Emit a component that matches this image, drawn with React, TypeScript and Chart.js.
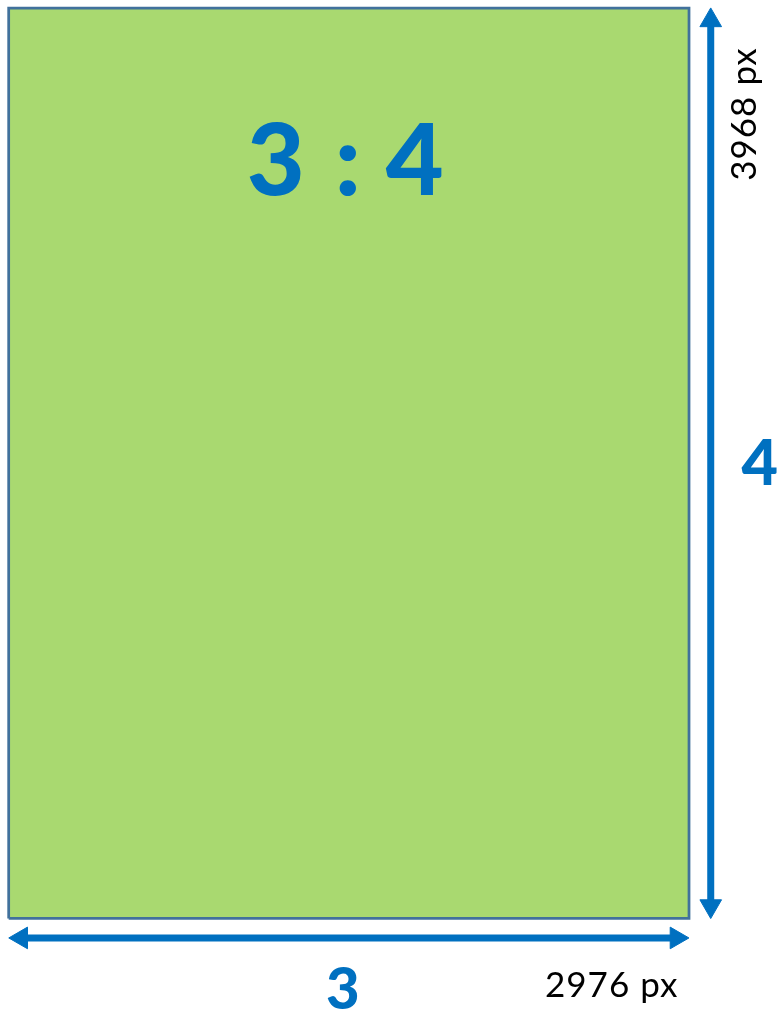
import React, { useEffect, useRef } from "react";
import { Chart, registerables } from "chart.js";

Chart.register(...registerables);

// ---- data ----
const dimensionNames = ["width", "height"];
const pixelSizes = [2976, 3968];
const ratioParts = [3, 4];
const unitLabel = "px";

const W = pixelSizes[0];
const H = pixelSizes[1];

// ---- layout (in data units) ----
const X_MIN = -38;
const X_MAX = 3374;
const Y_MIN = -447;
const Y_MAX = 4003;
const ARROW_GAP_X = 95;
const ARROW_GAP_Y = 85;
const HEAD_INSET_X = 55;
const HEAD_INSET_Y = 54;

const BLUE = "#0070c0";
const GREEN = "#a9d970";
const OUTLINE = "#41719c";
const FONT = "Lato, 'Open Sans', sans-serif";

const textPlugin = {
  id: "ratioText",
  afterDatasetsDraw(chart: any) {
    const ctx = chart.ctx;
    const xs = chart.scales.x;
    const ys = chart.scales.y;
    const cx = xs.getPixelForValue(W / 2);
    const top = ys.getPixelForValue(H);
    const right = xs.getPixelForValue(W);
    const vArrowX = xs.getPixelForValue(W + ARROW_GAP_X);
    const hArrowY = ys.getPixelForValue(-ARROW_GAP_Y);
    const midY = ys.getPixelForValue(H / 2);

    ctx.save();
    ctx.textBaseline = "alphabetic";

    // main ratio (drawn in parts to match the wide spacing)
    ctx.fillStyle = BLUE;
    ctx.font = `900 100px ${FONT}`;
    ctx.textAlign = "center";
    ctx.fillText(String(ratioParts[0]), cx - 73, top + 187);
    ctx.fillText(":", cx - 1, top + 187);
    ctx.fillText(String(ratioParts[1]), cx + 66, top + 187);

    // side ratio numbers
    ctx.font = `900 63px ${FONT}`;
    ctx.fillText(String(ratioParts[1]), vArrowX + 49, midY + 22);
    ctx.font = `900 58px ${FONT}`;
    ctx.fillText(String(ratioParts[0]), cx - 6, hArrowY + 71);

    // pixel sizes
    ctx.fillStyle = "#000000";
    ctx.font = `35px ${FONT}`;
    try {
      (ctx as any).letterSpacing = "1px";
    } catch (e) {}
    ctx.textAlign = "left";
    ctx.fillText(`${pixelSizes[0]} ${unitLabel}`, right - 144, hArrowY + 59);

    ctx.translate(vArrowX + 45, top + 106);
    ctx.rotate(-Math.PI / 2);
    ctx.textAlign = "center";
    ctx.fillText(`${pixelSizes[1]} ${unitLabel}`, 0, 0);
    ctx.restore();
  },
};

export default function App() {
  const ref = useRef<HTMLCanvasElement | null>(null);

  useEffect(() => {
    if (!ref.current) return;
    const chart = new Chart(ref.current, {
      type: "scatter",
      data: {
        datasets: [
          {
            label: "area",
            data: [
              { x: 0, y: H },
              { x: W, y: H },
            ],
            showLine: true,
            borderWidth: 0,
            borderColor: "rgba(0,0,0,0)",
            backgroundColor: GREEN,
            fill: "origin",
            pointRadius: 0,
            order: 4,
          },
          {
            label: "outline",
            data: [
              { x: 0, y: 0 },
              { x: 0, y: H },
              { x: W, y: H },
              { x: W, y: 0 },
              { x: 0, y: 0 },
            ],
            showLine: true,
            borderWidth: 2.75,
            borderColor: OUTLINE,
            borderJoinStyle: "miter",
            fill: false,
            pointRadius: 0,
            order: 3,
          },
          {
            label: dimensionNames[1],
            data: [
              { x: W + ARROW_GAP_X, y: HEAD_INSET_Y },
              { x: W + ARROW_GAP_X, y: H - HEAD_INSET_Y },
            ],
            showLine: true,
            borderWidth: 7,
            borderColor: BLUE,
            borderCapStyle: "butt",
            pointStyle: "triangle",
            pointRadius: 12.5,
            pointRotation: [180, 0],
            pointBackgroundColor: BLUE,
            pointBorderColor: BLUE,
            pointBorderWidth: 1,
            fill: false,
            order: 1,
          },
          {
            label: dimensionNames[0],
            data: [
              { x: HEAD_INSET_X, y: -ARROW_GAP_Y },
              { x: W - HEAD_INSET_X, y: -ARROW_GAP_Y },
            ],
            showLine: true,
            borderWidth: 7,
            borderColor: BLUE,
            borderCapStyle: "butt",
            pointStyle: "triangle",
            pointRadius: 12.5,
            pointRotation: [270, 90],
            pointBackgroundColor: BLUE,
            pointBorderColor: BLUE,
            pointBorderWidth: 1,
            fill: false,
            order: 1,
          },
        ],
      } as any,
      options: {
        animation: false,
        responsive: false,
        devicePixelRatio: 1,
        events: [],
        layout: { padding: 0, autoPadding: false },
        plugins: {
          legend: { display: false },
          tooltip: { enabled: false },
          title: { display: false },
        },
        scales: {
          x: { type: "linear", min: X_MIN, max: X_MAX, display: false },
          y: { type: "linear", min: Y_MIN, max: Y_MAX, display: false },
        },
      } as any,
      plugins: [textPlugin],
    });
    return () => chart.destroy();
  }, []);

  return (
    <div style={{ position: "absolute", left: 0, top: 0, width: 780, height: 1021, background: "#ffffff" }}>
      <canvas ref={ref} width={780} height={1021} style={{ display: "block" }} />
    </div>
  );
}
